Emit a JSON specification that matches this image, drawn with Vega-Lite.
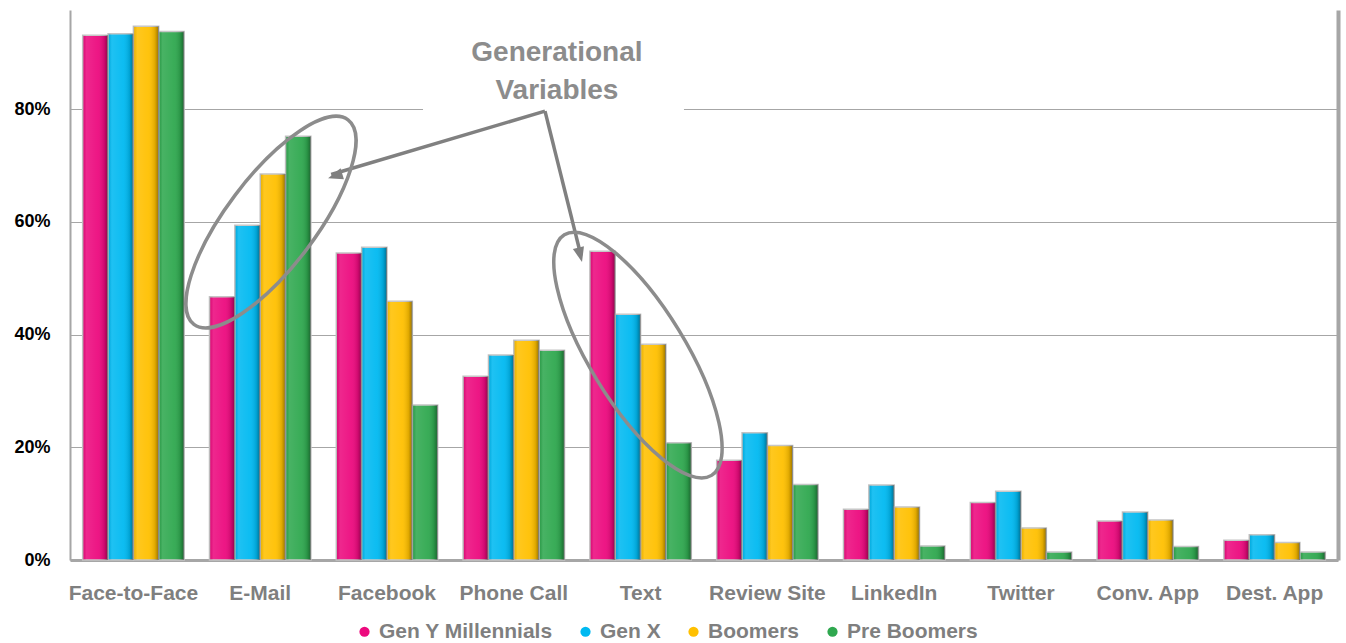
{
  "$schema": "https://vega.github.io/schema/vega-lite/v6.json",
  "width": 1268,
  "height": 550,
  "autosize": {"type": "none"},
  "padding": {"left": 70, "top": 10, "right": 8, "bottom": 83},
  "background": "white",
  "config": {"view": {"stroke": null}},
  "datasets": {
    "survey": [
      {"channel": "Face-to-Face", "gen": "Gen Y Millennials", "value": 0.931},
      {"channel": "Face-to-Face", "gen": "Gen X", "value": 0.934},
      {"channel": "Face-to-Face", "gen": "Boomers", "value": 0.947},
      {"channel": "Face-to-Face", "gen": "Pre  Boomers", "value": 0.938},
      {"channel": "E-Mail", "gen": "Gen Y Millennials", "value": 0.467},
      {"channel": "E-Mail", "gen": "Gen X", "value": 0.594},
      {"channel": "E-Mail", "gen": "Boomers", "value": 0.685},
      {"channel": "E-Mail", "gen": "Pre  Boomers", "value": 0.752},
      {"channel": "Facebook", "gen": "Gen Y Millennials", "value": 0.545},
      {"channel": "Facebook", "gen": "Gen X", "value": 0.555},
      {"channel": "Facebook", "gen": "Boomers", "value": 0.459},
      {"channel": "Facebook", "gen": "Pre  Boomers", "value": 0.275},
      {"channel": "Phone Call", "gen": "Gen Y Millennials", "value": 0.326},
      {"channel": "Phone Call", "gen": "Gen X", "value": 0.364},
      {"channel": "Phone Call", "gen": "Boomers", "value": 0.390},
      {"channel": "Phone Call", "gen": "Pre  Boomers", "value": 0.372},
      {"channel": "Text", "gen": "Gen Y Millennials", "value": 0.548},
      {"channel": "Text", "gen": "Gen X", "value": 0.436},
      {"channel": "Text", "gen": "Boomers", "value": 0.383},
      {"channel": "Text", "gen": "Pre  Boomers", "value": 0.208},
      {"channel": "Review Site", "gen": "Gen Y Millennials", "value": 0.177},
      {"channel": "Review Site", "gen": "Gen X", "value": 0.226},
      {"channel": "Review Site", "gen": "Boomers", "value": 0.203},
      {"channel": "Review Site", "gen": "Pre  Boomers", "value": 0.134},
      {"channel": "LinkedIn", "gen": "Gen Y Millennials", "value": 0.090},
      {"channel": "LinkedIn", "gen": "Gen X", "value": 0.133},
      {"channel": "LinkedIn", "gen": "Boomers", "value": 0.094},
      {"channel": "LinkedIn", "gen": "Pre  Boomers", "value": 0.025},
      {"channel": "Twitter", "gen": "Gen Y Millennials", "value": 0.102},
      {"channel": "Twitter", "gen": "Gen X", "value": 0.122},
      {"channel": "Twitter", "gen": "Boomers", "value": 0.057},
      {"channel": "Twitter", "gen": "Pre  Boomers", "value": 0.014},
      {"channel": "Conv. App", "gen": "Gen Y Millennials", "value": 0.069},
      {"channel": "Conv. App", "gen": "Gen X", "value": 0.085},
      {"channel": "Conv. App", "gen": "Boomers", "value": 0.071},
      {"channel": "Conv. App", "gen": "Pre  Boomers", "value": 0.024},
      {"channel": "Dest. App", "gen": "Gen Y Millennials", "value": 0.035},
      {"channel": "Dest. App", "gen": "Gen X", "value": 0.045},
      {"channel": "Dest. App", "gen": "Boomers", "value": 0.031},
      {"channel": "Dest. App", "gen": "Pre  Boomers", "value": 0.014}
    ]
  },
  "resolve": {"scale": {"x": "independent", "xOffset": "independent"}, "axis": {"y": "independent", "x": "independent"}},
  "layer": [
    {
      "data": {"name": "survey"},
      "mark": {"type": "bar", "stroke": "#C4C4C4", "strokeWidth": 1.5},
      "encoding": {
        "x": {
          "field": "channel", "type": "nominal",
          "sort": ["Face-to-Face", "E-Mail", "Facebook", "Phone Call", "Text", "Review Site", "LinkedIn", "Twitter", "Conv. App", "Dest. App"],
          "scale": {"paddingInner": 0.2, "paddingOuter": 0.1},
          "axis": {"title": null, "labelAngle": 0, "ticks": false, "labelPadding": 22, "labelFont": "Liberation Sans", "labelFontWeight": "bold", "labelFontSize": 21, "labelColor": "#7F7F7F", "domainColor": "#A6A6A6", "domainWidth": 3, "labelOverlap": false}
        },
        "xOffset": {"field": "gen", "type": "nominal", "sort": ["Gen Y Millennials", "Gen X", "Boomers", "Pre  Boomers"]},
        "y": {
          "field": "value", "type": "quantitative",
          "scale": {"domain": [0, 0.976], "nice": false},
          "axis": {"title": null, "values": [0, 0.2, 0.4, 0.6, 0.8], "format": ".0%", "ticks": false, "labelPadding": 20, "labelFont": "Liberation Sans", "labelFontWeight": "bold", "labelFontSize": 18, "labelColor": "#000000", "domainColor": "#A6A6A6", "domainWidth": 2, "gridColor": "#A6A6A6", "gridWidth": 1}
        },
        "color": {
          "field": "gen", "type": "nominal",
          "sort": ["Gen Y Millennials", "Gen X", "Boomers", "Pre  Boomers"],
          "scale": {"domain": ["Gen Y Millennials", "Gen X", "Boomers", "Pre  Boomers"], "range": ["#EC0A7E", "#00B9F1", "#FFC000", "#2FA84F"]},
          "legend": {"title": null, "orient": "none", "legendX": 284, "legendY": 611, "direction": "horizontal", "symbolType": "circle", "symbolSize": 105, "symbolStrokeWidth": 0, "labelFont": "Liberation Sans", "labelFontWeight": "bold", "labelFontSize": 21, "labelColor": "#7F7F7F", "labelOffset": 4, "labelLimit": 0, "columnPadding": 22}
        }
      }
    },
    {
      "data": {"name": "survey"},
      "mark": {"type": "bar", "fill": {"gradient": "linear", "x1": 0, "x2": 1, "y1": 0, "y2": 0, "stops": [{"offset": 0, "color": "rgba(0,0,0,0.08)"}, {"offset": 0.15, "color": "rgba(255,255,255,0.12)"}, {"offset": 0.6, "color": "rgba(255,255,255,0.05)"}, {"offset": 0.85, "color": "rgba(0,0,0,0.12)"}, {"offset": 1, "color": "rgba(0,0,0,0.4)"}]}, "strokeWidth": 0},
      "encoding": {
        "x": {
          "field": "channel", "type": "nominal",
          "sort": ["Face-to-Face", "E-Mail", "Facebook", "Phone Call", "Text", "Review Site", "LinkedIn", "Twitter", "Conv. App", "Dest. App"],
          "scale": {"paddingInner": 0.2, "paddingOuter": 0.1},
          "axis": null
        },
        "xOffset": {"field": "gen", "type": "nominal", "sort": ["Gen Y Millennials", "Gen X", "Boomers", "Pre  Boomers"]},
        "y": {
          "field": "value", "type": "quantitative",
          "scale": {"domain": [0, 0.976], "nice": false},
          "axis": {"orient": "right", "title": null, "labels": false, "ticks": false, "grid": false, "domainColor": "#A6A6A6", "domainWidth": 4}
        }
      }
    },
    {
      "data": {"values": [{"x": 2.784, "x2": 4.842, "y": 0.765, "y2": 0.97}]},
      "mark": {"type": "rect", "fill": "white"},
      "encoding": {
        "x": {"field": "x", "type": "quantitative", "scale": {"domain": [0, 10], "nice": false, "zero": false}, "axis": null},
        "x2": {"field": "x2"},
        "y": {"field": "y", "type": "quantitative", "scale": {"domain": [0, 0.976], "nice": false}, "axis": null},
        "y2": {"field": "y2"}
      }
    },
    {
      "data": {"values": [
        {"x": 3.746, "y": 0.7965, "x2": 2.06, "y2": 0.684},
        {"x": 3.746, "y": 0.7965, "x2": 4.03, "y2": 0.54}
      ]},
      "mark": {"type": "rule", "stroke": "#808080", "strokeWidth": 3.5},
      "encoding": {
        "x": {"field": "x", "type": "quantitative", "scale": {"domain": [0, 10], "nice": false, "zero": false}, "axis": null},
        "x2": {"field": "x2"},
        "y": {"field": "y", "type": "quantitative", "scale": {"domain": [0, 0.976], "nice": false}, "axis": null},
        "y2": {"field": "y2"}
      }
    },
    {
      "data": {"values": [{"x": 2.035, "y": 0.6776}]},
      "mark": {"type": "point", "shape": "M0,0 L0.65,1.7 L-0.65,1.7 Z", "size": 306, "filled": true, "fill": "#808080", "opacity": 1, "strokeWidth": 0, "angle": 253},
      "encoding": {
        "x": {"field": "x", "type": "quantitative", "scale": {"domain": [0, 10], "nice": false, "zero": false}, "axis": null},
        "y": {"field": "y", "type": "quantitative", "scale": {"domain": [0, 0.976], "nice": false}, "axis": null}
      }
    },
    {
      "data": {"values": [{"x": 4.038, "y": 0.5286}]},
      "mark": {"type": "point", "shape": "M0,0 L0.65,1.7 L-0.65,1.7 Z", "size": 306, "filled": true, "fill": "#808080", "opacity": 1, "strokeWidth": 0, "angle": 166},
      "encoding": {
        "x": {"field": "x", "type": "quantitative", "scale": {"domain": [0, 10], "nice": false, "zero": false}, "axis": null},
        "y": {"field": "y", "type": "quantitative", "scale": {"domain": [0, 0.976], "nice": false}, "axis": null}
      }
    },
    {
      "data": {"values": [{"x": 1.585, "y": 0.5996}]},
      "mark": {"type": "point", "shape": "M0.602,-0.799 C0.757,-0.683 0.612,-0.230 0.280,0.211 C-0.052,0.652 -0.447,0.915 -0.602,0.799 C-0.757,0.683 -0.612,0.230 -0.280,-0.211 C0.052,-0.652 0.447,-0.915 0.602,-0.799 Z", "size": 65536, "filled": false, "stroke": "#8C8C8C", "strokeWidth": 3.5, "opacity": 1},
      "encoding": {
        "x": {"field": "x", "type": "quantitative", "scale": {"domain": [0, 10], "nice": false, "zero": false}, "axis": null},
        "y": {"field": "y", "type": "quantitative", "scale": {"domain": [0, 0.976], "nice": false}, "axis": null}
      }
    },
    {
      "data": {"values": [{"x": 4.479, "y": 0.3636}]},
      "mark": {"type": "point", "shape": "M0.522,0.853 C0.682,0.755 0.578,0.294 0.290,-0.177 C0.002,-0.648 -0.362,-0.951 -0.522,-0.853 C-0.682,-0.755 -0.578,-0.294 -0.290,0.177 C-0.002,0.648 0.362,0.951 0.522,0.853 Z", "size": 79524, "filled": false, "stroke": "#8C8C8C", "strokeWidth": 3.5, "opacity": 1},
      "encoding": {
        "x": {"field": "x", "type": "quantitative", "scale": {"domain": [0, 10], "nice": false, "zero": false}, "axis": null},
        "y": {"field": "y", "type": "quantitative", "scale": {"domain": [0, 0.976], "nice": false}, "axis": null}
      }
    },
    {
      "data": {"values": [
        {"x": 3.84, "y": 0.899, "label": "Generational"},
        {"x": 3.84, "y": 0.8315, "label": "Variables"}
      ]},
      "mark": {"type": "text", "font": "Liberation Sans", "fontWeight": "bold", "fontSize": 28, "fill": "#8C8C8C", "align": "center", "baseline": "middle"},
      "encoding": {
        "x": {"field": "x", "type": "quantitative", "scale": {"domain": [0, 10], "nice": false, "zero": false}, "axis": null},
        "y": {"field": "y", "type": "quantitative", "scale": {"domain": [0, 0.976], "nice": false}, "axis": null},
        "text": {"field": "label"}
      }
    }
  ]
}
